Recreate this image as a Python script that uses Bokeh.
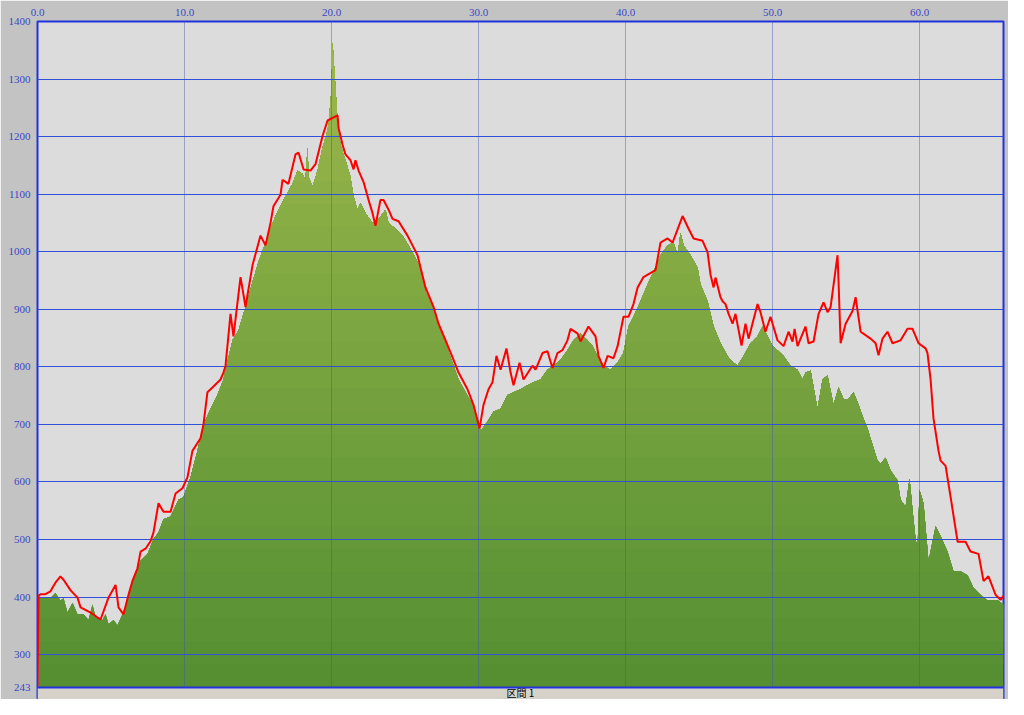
import numpy as np
from bokeh.plotting import figure
from bokeh.models import FixedTicker, NumeralTickFormatter, Label, Range1d
from bokeh.embed import file_html
from bokeh.resources import INLINE

# ---- data (km, elevation m) ----
ground_km = [0.07, 0.88, 1.22, 1.56, 1.77, 2.04, 2.38, 2.72, 3.13, 3.47, 3.74, 3.95, 4.42, 4.63, 4.83,
             5.17, 5.44, 5.78, 6.12, 6.33, 6.67, 7.01, 7.48, 7.89, 8.23, 8.57, 9.05, 9.59, 9.93, 10.41,
             10.88, 11.29, 11.90, 12.24, 12.65, 12.79, 13.27, 13.67, 14.15, 14.63, 15.03, 15.51, 15.99,
             16.39, 16.87, 17.35, 17.69, 18.03, 18.23, 18.37, 18.44, 18.71, 19.05, 19.39, 19.59, 19.80,
             20.00, 20.07, 20.20, 20.41, 20.61, 20.95, 21.29, 21.50, 21.77, 21.97, 22.31, 22.79, 23.20,
             23.67, 23.88, 24.35, 24.83, 25.24, 25.71, 26.05, 26.39, 26.87, 27.28, 27.76, 28.23, 28.64,
             29.12, 29.59, 30.00, 30.14, 30.61, 31.02, 31.50, 31.97, 32.38, 32.86, 33.33, 33.74, 34.22,
             34.69, 35.10, 35.58, 36.05, 36.46, 36.94, 37.41, 37.76, 38.10, 38.50, 38.98, 39.46, 39.86,
             40.20, 40.54, 41.02, 41.50, 41.90, 42.38, 42.86, 43.27, 43.54, 43.74, 43.95, 44.42, 44.90,
             45.10, 45.58, 45.99, 46.46, 46.94, 47.14, 47.62, 48.03, 48.50, 48.98, 49.32, 49.66, 50.00,
             50.34, 50.75, 51.22, 51.70, 52.04, 52.24, 52.59, 53.06, 53.40, 53.74, 54.15, 54.49, 54.83,
             55.17, 55.51, 55.85, 56.19, 56.46, 56.87, 57.14, 57.35, 57.69, 58.03, 58.50, 58.71, 59.05,
             59.32, 59.52, 59.73, 59.86, 60.00, 60.27, 60.61, 61.09, 61.43, 61.90, 62.31, 62.79, 63.27,
             63.67, 64.15, 64.63, 65.31, 65.71]
ground_elev = [398, 398, 407, 394, 398, 373, 390, 370, 370, 360, 387, 365, 360, 370, 353,
               360, 351, 370, 394, 416, 438, 463, 475, 501, 512, 535, 540, 569, 574, 608,
               654, 700, 734, 751, 778, 795, 846, 863, 904, 948, 982, 1016, 1050,
               1073, 1096, 1118, 1141, 1135, 1125, 1181, 1130, 1113, 1141, 1181, 1198, 1220,
               1283, 1363, 1312, 1227, 1186, 1159, 1130, 1096, 1073, 1084, 1067, 1050, 1057,
               1073, 1050, 1040, 1028, 1011, 989, 972, 931, 904, 875, 841, 807, 778,
               756, 734, 705, 688, 705, 722, 727, 751, 756, 761, 768, 773, 778,
               795, 802, 812, 829, 846, 858, 846, 836, 819, 802, 795, 807, 824,
               870, 887, 914, 943, 965, 994, 1011, 1016, 994, 1033, 1011, 994, 972,
               943, 914, 870, 841, 819, 812, 802, 819, 841, 853, 870, 853, 836,
               829, 819, 802, 795, 778, 790, 793, 727, 778, 785, 734, 764, 744,
               744, 756, 734, 710, 693, 659, 637, 632, 642, 620, 603, 569, 557,
               606, 552, 501, 484, 586, 563, 462, 523, 506, 479, 445, 445, 438,
               416, 404, 394, 395, 387]

track_km = [0.0, 0.07, 0.2, 0.54, 0.88, 1.22, 1.56, 1.77, 2.24, 2.72, 2.93, 3.61, 4.29, 4.83, 5.31,
            5.51, 5.85, 6.19, 6.46, 6.80, 7.01, 7.35, 7.69, 7.89, 8.23, 8.57, 9.05, 9.39, 9.86, 10.20,
            10.54, 11.09, 11.29, 11.56, 11.90, 12.45, 12.65, 12.79, 13.13, 13.33, 13.81, 14.15, 14.63,
            15.17, 15.51, 15.85, 16.05, 16.53, 16.67, 17.07, 17.55, 17.76, 18.10, 18.57, 18.91, 19.39,
            19.73, 20.41, 20.48, 20.75, 20.95, 21.29, 21.50, 21.63, 21.84, 22.18, 22.52, 22.79, 22.99,
            23.33, 23.54, 23.88, 24.15, 24.56, 25.17, 25.51, 25.85, 26.39, 26.94, 27.28, 27.76, 28.30,
            28.64, 29.25, 29.66, 30.07, 30.34, 30.68, 30.95, 31.22, 31.50, 31.90, 32.18, 32.38, 32.79,
            33.06, 33.67, 33.88, 34.35, 34.69, 35.03, 35.37, 35.71, 36.05, 36.26, 36.73, 36.94, 37.48,
            37.96, 38.16, 38.50, 38.78, 39.18, 39.46, 39.86, 40.20, 40.54, 40.82, 41.22, 42.04, 42.38,
            42.86, 43.20, 43.88, 44.29, 44.63, 45.24, 45.58, 45.78, 45.99, 46.12, 46.46, 46.60, 46.80,
            47.01, 47.28, 47.48, 47.89, 48.16, 48.37, 48.98, 49.18, 49.52, 49.86, 50.34, 50.75, 51.09,
            51.36, 51.50, 51.70, 52.24, 52.45, 52.79, 53.13, 53.47, 53.74, 53.95, 54.42, 54.49, 54.63,
            54.97, 55.44, 55.65, 55.99, 56.67, 57.01, 57.21, 57.48, 57.82, 58.16, 58.71, 59.18, 59.52,
            59.93, 60.41, 60.54, 60.75, 60.95, 61.29, 61.43, 61.77, 62.11, 62.59, 63.13, 63.47, 64.01,
            64.35, 64.69, 65.17, 65.51, 65.71]
track_elev = [245, 402, 405, 405, 410, 425, 436, 430, 412, 399, 382, 373, 361, 399, 421,
              382, 370, 404, 428, 450, 479, 484, 497, 512, 563, 548, 548, 580, 589, 608,
              654, 676, 700, 756, 764, 778, 790, 802, 892, 853, 956, 904, 977,
              1028, 1011, 1050, 1079, 1099, 1125, 1118, 1169, 1172, 1143, 1141, 1152, 1201,
              1228, 1237, 1215, 1186, 1169, 1159, 1143, 1159, 1141, 1121, 1090, 1067, 1045,
              1090, 1090, 1073, 1057, 1053, 1028, 1011, 994, 938, 904, 875, 846, 812,
              790, 761, 734, 693, 734, 761, 773, 819, 795, 832, 790, 768, 807,
              778, 802, 795, 824, 827, 798, 824, 829, 846, 866, 858, 844, 870,
              853, 819, 798, 819, 815, 836, 887, 887, 909, 938, 956, 968, 1016,
              1023, 1016, 1062, 1040, 1023, 1019, 999, 960, 938, 955, 921, 914, 909,
              892, 875, 892, 837, 875, 849, 909, 895, 861, 887, 846, 836, 861,
              844, 866, 836, 870, 841, 844, 892, 912, 895, 904, 994, 948, 841,
              875, 897, 921, 861, 849, 841, 820, 849, 861, 841, 846, 866, 866,
              841, 832, 824, 778, 710, 654, 637, 628, 574, 496, 496, 479, 475,
              428, 436, 404, 395, 402]

x_ticks = [0, 10, 20, 30, 40, 50, 60]
y_ticks = [243, 300, 400, 500, 600, 700, 800, 900, 1000, 1100, 1200, 1300, 1400]
y_grid = [300, 400, 500, 600, 700, 800, 900, 1000, 1100, 1200, 1300]
section_label = "区間 1"

x_min, x_max = 0.0, 65.71
y_min, y_max = 243, 1400
strip = 21  # room below the profile for the section strip (in metres of the axis)

p = figure(width=1008, height=699, output_backend="svg", toolbar_location=None,
           x_axis_location="above", x_range=Range1d(x_min, x_max),
           y_range=Range1d(y_min - strip, y_max),
           min_border_left=37, min_border_right=5, min_border_top=21, min_border_bottom=0)
p.background_fill_color = "#dcdcdc"
p.border_fill_color = "#c3c3c3"
p.outline_line_color = "#2233dd"
p.outline_line_width = 2
p.xgrid.visible = False
p.ygrid.visible = False

# gradient-like fill by elevation bands (each band drawn from its floor up to the profile)
g = np.array(ground_elev, dtype=float)
levels = np.arange(y_min, y_max, 40)
c_lo = np.array([84, 143, 50])
c_hi = np.array([160, 186, 78])
for k, lo in enumerate(levels):
    t = (lo + 20 - y_min) / (y_max - y_min)
    c = (c_lo + (c_hi - c_lo) * t).astype(int)
    col = "#%02x%02x%02x" % tuple(c)
    p.varea(x=ground_km, y1=np.minimum(g, lo), y2=g, fill_color=col)

p.vspan(x=x_ticks[1:], line_color="#4656b0", line_alpha=0.45, line_width=1)
p.hspan(y=y_grid, line_color="#3050d8", line_width=1)
p.line(track_km, track_elev, line_color="#ff0000", line_width=2)

# section strip under the profile
p.quad(left=[x_min], right=[x_max], bottom=[y_min - strip], top=[y_min],
       fill_color="#d6d2ca", line_color=None)
p.hspan(y=[y_min], line_color="#2233dd", line_width=2)
p.add_layout(Label(x=(x_min + x_max) / 2, y=y_min - strip, y_offset=0, text=section_label,
                   text_align="center", text_baseline="bottom", text_color="#000000",
                   text_font="Noto Sans CJK JP", text_font_size="10px"))

font = "Liberation Serif"
tcol = "#3a46c8"
ax = p.xaxis[0]
ax.ticker = FixedTicker(ticks=x_ticks)
ax.formatter = NumeralTickFormatter(format="0.0")
ay = p.yaxis[0]
ay.ticker = FixedTicker(ticks=y_ticks)
for a in (ax, ay):
    a.axis_line_color = None
    a.major_tick_line_color = None
    a.minor_tick_line_color = None
    a.major_tick_out = 0
    a.major_tick_in = 0
    a.minor_tick_out = 0
    a.minor_tick_in = 0
    a.major_label_text_color = tcol
    a.major_label_text_font = font
    a.major_label_text_font_size = "11px"
ax.major_label_standoff = 6
ay.major_label_standoff = 7

p.add_layout(Label(x=x_max, y=y_max, x_offset=4, y_offset=6, text="[km]", text_align="right",
                   text_baseline="bottom", text_color=tcol, text_font=font, text_font_size="11px"))

open("out.html", "w").write(file_html(p, INLINE))
